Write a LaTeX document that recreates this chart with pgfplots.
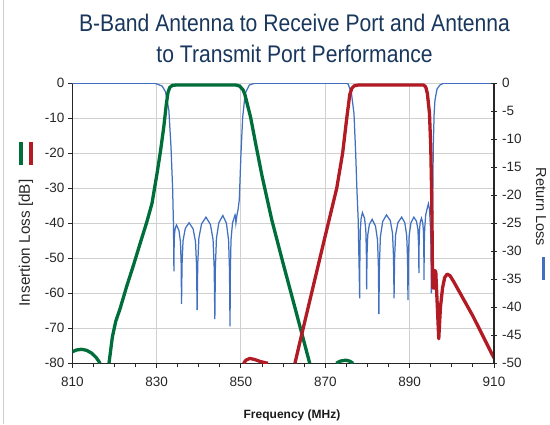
\documentclass[border=0pt]{standalone}
\usepackage{pgfplots}
\usepackage{pgfplotstable}
\pgfplotsset{compat=1.18}
\usepackage{fontspec}
\setmainfont{Liberation Sans}
\usepackage{graphicx}

\definecolor{rxgreen}{RGB}{0,110,58}
\definecolor{txred}{RGB}{178,26,36}
\definecolor{rlblue}{RGB}{65,112,192}
\definecolor{titleblue}{RGB}{25,55,92}
\definecolor{gridgray}{RGB}{208,208,208}

% return loss of both filters, dB (right axis)
\pgfplotstableread{
f rl
810 0
829.5 0
830.2 -0.15
831.3 -0.5
832.1 -1.5
832.9 -4.8
833.4 -11.3
833.8 -19
834.0 -25.6
834.1 -33.6
834.14 -29.45
834.22 -27.1
834.4 -25.9
834.7 -25.3
835.3 -26.3
835.66 -28.4
835.82 -32.4
835.9 -39.4
836.03 -32.2
836.26 -28.1
836.8 -25.9
837.7 -24.9
838.65 -26.0
839.22 -28.3
839.47 -32.7
839.6 -40.5
839.75 -32.2
840.02 -27.6
840.65 -25.1
841.7 -23.9
842.75 -25.2
843.38 -27.9
843.65 -33.0
843.8 -42.1
843.93 -32.9
844.18 -27.7
844.75 -24.9
845.7 -23.6
846.55 -25.0
847.06 -28.0
847.28 -33.5
847.4 -43.4
847.48 -33.5
847.64 -27.9
848.0 -24.9
848.6 -23.5
848.7 -23.8
848.8 -24.9
849.05 -23.5
849.3 -22.6
849.6 -20.8
850.0 -12.5
850.4 -6.1
851.0 -1.8
852.0 -0.3
853.2 0
875.0 0
875.4 -0.1
876.2 -1.8
876.8 -5.4
877.2 -12.5
877.5 -19.1
877.8 -24.4
878.15 -38.4
878.2 -30.8
878.28 -26.5
878.48 -24.2
878.8 -23.1
879.3 -24.1
879.6 -26.1
879.73 -30.0
879.8 -36.8
879.89 -30.6
880.06 -27.1
880.45 -25.2
881.1 -24.3
881.9 -25.5
882.38 -28.0
882.59 -32.8
882.7 -41.2
882.83 -32.4
883.06 -27.4
883.6 -24.7
884.5 -23.5
885.4 -24.5
885.94 -26.8
886.17 -31.0
886.3 -38.4
886.43 -31.2
886.66 -27.1
887.2 -24.9
888.1 -23.9
888.85 -24.9
889.3 -27.2
889.5 -31.3
889.6 -38.7
889.7 -31.3
889.88 -27.2
890.3 -24.9
891.0 -23.9
891.6 -24.6
891.96 -26.1
892.12 -28.9
892.2 -33.9
892.24 -29.0
892.32 -26.3
892.5 -24.8
892.8 -24.1
893.1 -24.9
893.28 -26.5
893.36 -29.6
893.4 -35.1
893.46 -29.0
893.56 -26.0
893.8 -23.5
894.2 -22.2
894.45 -21.5
894.7 -22.5
894.95 -26
895.07 -30
895.15 -37.5
895.45 -23
895.6 -11.3
895.8 -5.5
896.0 -3.0
896.5 -1.0
897.2 -0.3
898 0
910 0
}\returnloss

\begin{document}
\begin{tikzpicture}[x=1pt,y=1pt]
\useasboundingbox (0,0) rectangle (550,424);
\draw[black!20, line width=1.5] (3.5,0) -- (3.5,424);

\begin{axis}[
  at={(72.3pt,60.7pt)}, anchor=south west, scale only axis,
  width=421.7pt, height=280pt,
  xmin=810, xmax=910, ymin=-80, ymax=0,
  axis x line*=bottom, axis y line*=left,
  axis line style={-, line width=1.2pt, black!85},
  xtick={810,830,...,910}, minor x tick num=3,
  ytick={-80,-70,...,0},
  tick align=outside, major tick length=4.5pt, minor tick length=4pt,
  every tick/.style={black!85, line width=1pt},
  xmajorgrids, ymajorgrids,
  major grid style={gridgray, line width=1pt},
  tick label style={font=\fontsize{13.5}{16}\selectfont, text=black!85},
  xticklabel style={yshift=-6pt},
  /pgf/number format/assume math mode=true,
  unbounded coords=jump,
]
\addplot[rlblue, line width=1.25pt] table[x=f, y expr=1.6*\thisrow{rl}] {\returnloss};

% antenna to receive port
\addplot[rxgreen, line width=3.3pt, line join=round] coordinates {
(810,-76.7) (811,-76.2) (812.2,-76.0) (813.4,-76.3) (814.6,-77.1) (815.7,-78.4) (816.6,-80) (817.5,nan)
(818.7,-80) (819.5,-72.5) (820.3,-68) (821.3,-64.5) (822.9,-58) (824.5,-52) (826.1,-45.7) (827.7,-39.5)
(828.9,-34.3) (830.1,-25.7) (830.9,-19.5) (831.7,-12.4) (832.3,-5.9) (832.7,-2.6) (833.1,-1.2) (833.7,-0.6)
(834.5,-0.5) (848.8,-0.5) (849.7,-0.8) (850.5,-1.9) (850.9,-3.1) (852.3,-9.8) (853.6,-18) (855,-26.5)
(857.3,-39) (860,-51.5) (863,-65) (866.3,-80) (869,nan)
(872.6,-80) (873.5,-79.4) (874.8,-79.1) (875.8,-79.4) (876.6,-80)
};

% antenna to transmit port
\addplot[txred, line width=3.3pt, line join=round] coordinates {
(850.6,-80) (851.2,-79.1) (852.1,-78.6) (853.2,-78.9) (854.6,-79.5) (856.4,-80) (858,nan)
(862.8,-80) (864,-73.8) (866,-63.7) (868,-53.6) (869.5,-46) (870.9,-39) (872.7,-30) (874.1,-20)
(875.1,-9.8) (875.8,-3.2) (876.3,-1.4) (876.9,-0.7) (877.8,-0.5) (893.3,-0.5) (893.8,-1.0) (894.2,-2.9)
(894.7,-8.6) (895.0,-18.1) (895.2,-30.5) (895.32,-42) (895.4,-53) (895.5,-58.5) (895.9,-58.5) (896.0,-53.5)
(896.2,-54) (896.9,-73) (897.3,-64) (897.8,-58.5) (898.3,-55.5) (898.9,-54.5) (899.6,-55) (900.5,-56.8)
(905,-66.5) (910,-78.5)
};
\end{axis}

\begin{axis}[
  at={(72.3pt,60.7pt)}, anchor=south west, scale only axis,
  width=421.7pt, height=280pt,
  xmin=810, xmax=910, ymin=-50, ymax=0,
  axis x line=none, axis y line*=right,
  axis line style={-, line width=1.2pt, black!85},
  ytick={-50,-45,...,0},
  tick align=center, major tick length=6pt,
  every tick/.style={black!85, line width=1pt},
  tick label style={font=\fontsize{13.5}{16}\selectfont, text=black!85},
  yticklabel style={xshift=1.5pt},
  /pgf/number format/assume math mode=true,
]
\addplot[draw=none] coordinates {(810,0)};
\end{axis}

\node[anchor=base, text=titleblue] at (294.5,392)
  {\scalebox{0.88}[1]{\fontsize{24}{28}\selectfont B-Band Antenna to Receive Port and Antenna}};
\node[anchor=base, text=titleblue] at (294.5,361)
  {\scalebox{0.88}[1]{\fontsize{24}{28}\selectfont to Transmit Port Performance}};

\node[rotate=90, text=black!85] at (26,181) {\fontsize{15.3}{18}\selectfont Insertion Loss [dB]};
\node[rotate=-90, text=black!85] at (541,217) {\fontsize{14.5}{17}\selectfont Return Loss};
\node[anchor=base, text=black!90] at (292,6) {\fontsize{12}{14}\selectfont\bfseries Frequency (MHz)};

\draw[rxgreen, line width=4] (21,259) -- (21,282);
\draw[txred, line width=4] (31,259) -- (31,282);
\draw[rlblue, line width=3.5] (543.5,144) -- (543.5,167);
\end{tikzpicture}
\end{document}
